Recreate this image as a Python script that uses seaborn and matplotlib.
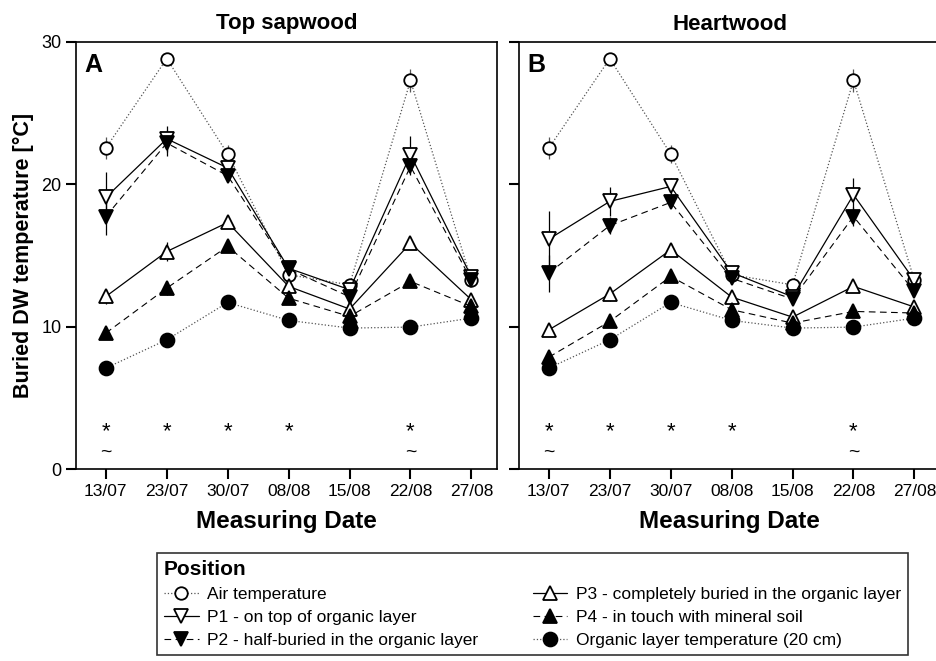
import matplotlib
matplotlib.use("Agg")
import matplotlib.pyplot as plt
import seaborn as sns
import numpy as np
import pandas as pd
from matplotlib.lines import Line2D

sns.set_style("ticks")
plt.rcParams['font.family'] = ['Liberation Sans Narrow', 'Liberation Sans', 'DejaVu Sans']
plt.rcParams['text.color'] = 'black'
plt.rcParams['axes.labelcolor'] = 'black'
plt.rcParams['xtick.color'] = 'black'
plt.rcParams['ytick.color'] = 'black'

dates = ["13/07", "23/07", "30/07", "08/08", "15/08", "22/08", "27/08"]

# Panel A - Top sapwood
a_air = [22.55, 28.83, 22.13, 13.65, 12.94, 27.30, 13.25]
a_p1 = [19.08, 23.20, 21.15, 14.10, 12.60, 22.08, 13.50]
a_p2 = [17.74, 22.90, 20.60, 14.05, 12.10, 21.26, 13.25]
a_p3 = [12.12, 15.28, 17.32, 12.83, 11.24, 15.87, 11.89]
a_p4 = [9.55, 12.71, 15.64, 12.00, 10.72, 13.18, 11.42]
a_org = [7.09, 9.08, 11.70, 10.44, 9.90, 9.97, 10.60]

a_air_err = [0.8, 0.3, 0.6, 0.2, 0.3, 0.8, 0.2]
a_p1_err = [1.8, 0.9, 0.5, 0.3, 0.3, 1.3, 0.5]
a_p2_err = [1.3, 0.9, 0.4, 0.3, 0.3, 0.6, 0.3]
a_p3_err = [0.5, 0.7, 0.4, 0.2, 0.2, 0.4, 0.2]
a_p4_err = [0.2, 0.5, 0.2, 0.2, 0.1, 0.2, 0.1]

# Panel B - Heartwood
b_air = [22.55, 28.83, 22.13, 13.65, 12.94, 27.30, 13.25]
b_p1 = [16.15, 18.80, 19.85, 13.80, 12.10, 19.27, 13.25]
b_p2 = [13.77, 17.10, 18.73, 13.40, 11.94, 17.74, 12.48]
b_p3 = [9.78, 12.30, 15.40, 12.08, 10.67, 12.83, 11.38]
b_p4 = [7.86, 10.37, 13.53, 11.19, 10.25, 11.07, 10.96]
b_org = [7.09, 9.08, 11.70, 10.44, 9.90, 9.97, 10.60]

b_air_err = [0.8, 0.3, 0.6, 0.2, 0.3, 0.8, 0.2]
b_p1_err = [1.95, 1.0, 0.6, 0.3, 0.3, 1.2, 0.3]
b_p2_err = [1.3, 0.6, 0.4, 0.3, 0.3, 0.7, 0.3]
b_p3_err = [0.3, 0.5, 0.4, 0.2, 0.2, 0.3, 0.2]
b_p4_err = [0.2, 0.2, 0.2, 0.2, 0.1, 0.2, 0.1]

star_dates = ["13/07", "23/07", "30/07", "08/08", "22/08"]
tilde_dates = ["13/07", "22/08"]

labels = ["Air temperature",
          "P1 - on top of organic layer",
          "P2 - half-buried in the organic layer",
          "P3 - completely buried in the organic layer",
          "P4 - in touch with mineral soil",
          "Organic layer temperature (20 cm)"]

styles = [
    dict(marker='o', ls=':', mfc='white', ms=9, lc='#555555', lw=0.9),
    dict(marker='v', ls='-', mfc='white', ms=10, lc='black', lw=0.9),
    dict(marker='v', ls=(0, (6, 4)), mfc='black', ms=10, lc='black', lw=0.8),
    dict(marker='^', ls='-', mfc='white', ms=10, lc='black', lw=0.9),
    dict(marker='^', ls=(0, (6, 4)), mfc='black', ms=10, lc='black', lw=0.8),
    dict(marker='o', ls=':', mfc='black', ms=10, lc='#555555', lw=0.9),
]

W, H = 936, 661
fig = plt.figure(figsize=(W / 100, H / 100), dpi=100)
axA = fig.add_axes([76 / W, 1 - 469 / H, 421 / W, 427 / H])
axB = fig.add_axes([519 / W, 1 - 469 / H, 421 / W, 427 / H])

xpos = np.arange(len(dates))
bold_fam = ['Liberation Sans', 'DejaVu Sans']

def draw(ax, series, errs, letter, title):
    for vals, err, st, lab in zip(series, errs, styles, labels):
        df = pd.DataFrame({"x": xpos, "y": vals})
        if err is not None:
            ax.errorbar(xpos, vals, yerr=err, fmt='none', ecolor=st['lc'],
                        elinewidth=0.9, capsize=0, ls=st['ls'], zorder=2)
        sns.lineplot(data=df, x="x", y="y", ax=ax, color=st['lc'], lw=st['lw'],
                     linestyle=st['ls'], marker=st['marker'], markersize=st['ms'],
                     markerfacecolor=st['mfc'], markeredgecolor='black',
                     markeredgewidth=1.3, zorder=3, sort=False)
    for d in star_dates:
        ax.text(dates.index(d), 2.6, "*", ha='center', va='center', fontsize=16)
    for d in tilde_dates:
        ax.text(dates.index(d), 1.2, "~", ha='center', va='center', fontsize=14)
    ax.set_xlim(-0.49, 6.42)
    ax.set_ylim(0, 30)
    ax.set_xticks(xpos)
    ax.set_xticklabels(dates, fontsize=12.5)
    ax.set_yticks([0, 10, 20, 30])
    ax.tick_params(axis='both', direction='out', length=7, width=1.5, colors='black')
    for s in ax.spines.values():
        s.set_linewidth(1.2)
        s.set_color('black')
    ax.set_xlabel("Measuring Date", fontsize=17.5, fontweight='bold', labelpad=8,
                  family=bold_fam)
    ax.text(0.02, 0.975, letter, transform=ax.transAxes, fontsize=18,
            fontweight='bold', ha='left', va='top', family=bold_fam)
    ax.set_title(title, fontsize=16, fontweight='bold', pad=9, family=bold_fam)

draw(axA, [a_air, a_p1, a_p2, a_p3, a_p4, a_org],
     [a_air_err, a_p1_err, a_p2_err, a_p3_err, a_p4_err, None], "A", "Top sapwood")
draw(axB, [b_air, b_p1, b_p2, b_p3, b_p4, b_org],
     [b_air_err, b_p1_err, b_p2_err, b_p3_err, b_p4_err, None], "B", "Heartwood")

axA.set_ylabel("Buried DW temperature [°C]", fontsize=15.5, fontweight='bold',
               family=bold_fam, labelpad=5)
axA.tick_params(axis='y', labelsize=13)
axB.set_ylabel("")
axB.set_yticklabels([])

handles = [Line2D([0], [0], color=st['lc'], lw=st['lw'], ls=st['ls'], marker=st['marker'],
                  ms=st['ms'], mfc=st['mfc'], mec='black', mew=1.3) for st in styles]
leg = fig.legend(handles, labels,
                 loc='upper left', bbox_to_anchor=(157 / W, 1 - 657 / H, 751 / W, 104 / H),
                 mode='expand', ncol=2,
                 title="Position", alignment='left', fontsize=12.5,
                 title_fontproperties={'weight': 'bold', 'size': 15, 'family': bold_fam},
                 frameon=True, fancybox=False, edgecolor='black',
                 handlelength=2.0, handletextpad=0.5, columnspacing=1.2,
                 labelspacing=0.45, borderpad=0.4, borderaxespad=0)
leg.get_frame().set_linewidth(1.2)

fig.savefig("out.png", dpi=100)
